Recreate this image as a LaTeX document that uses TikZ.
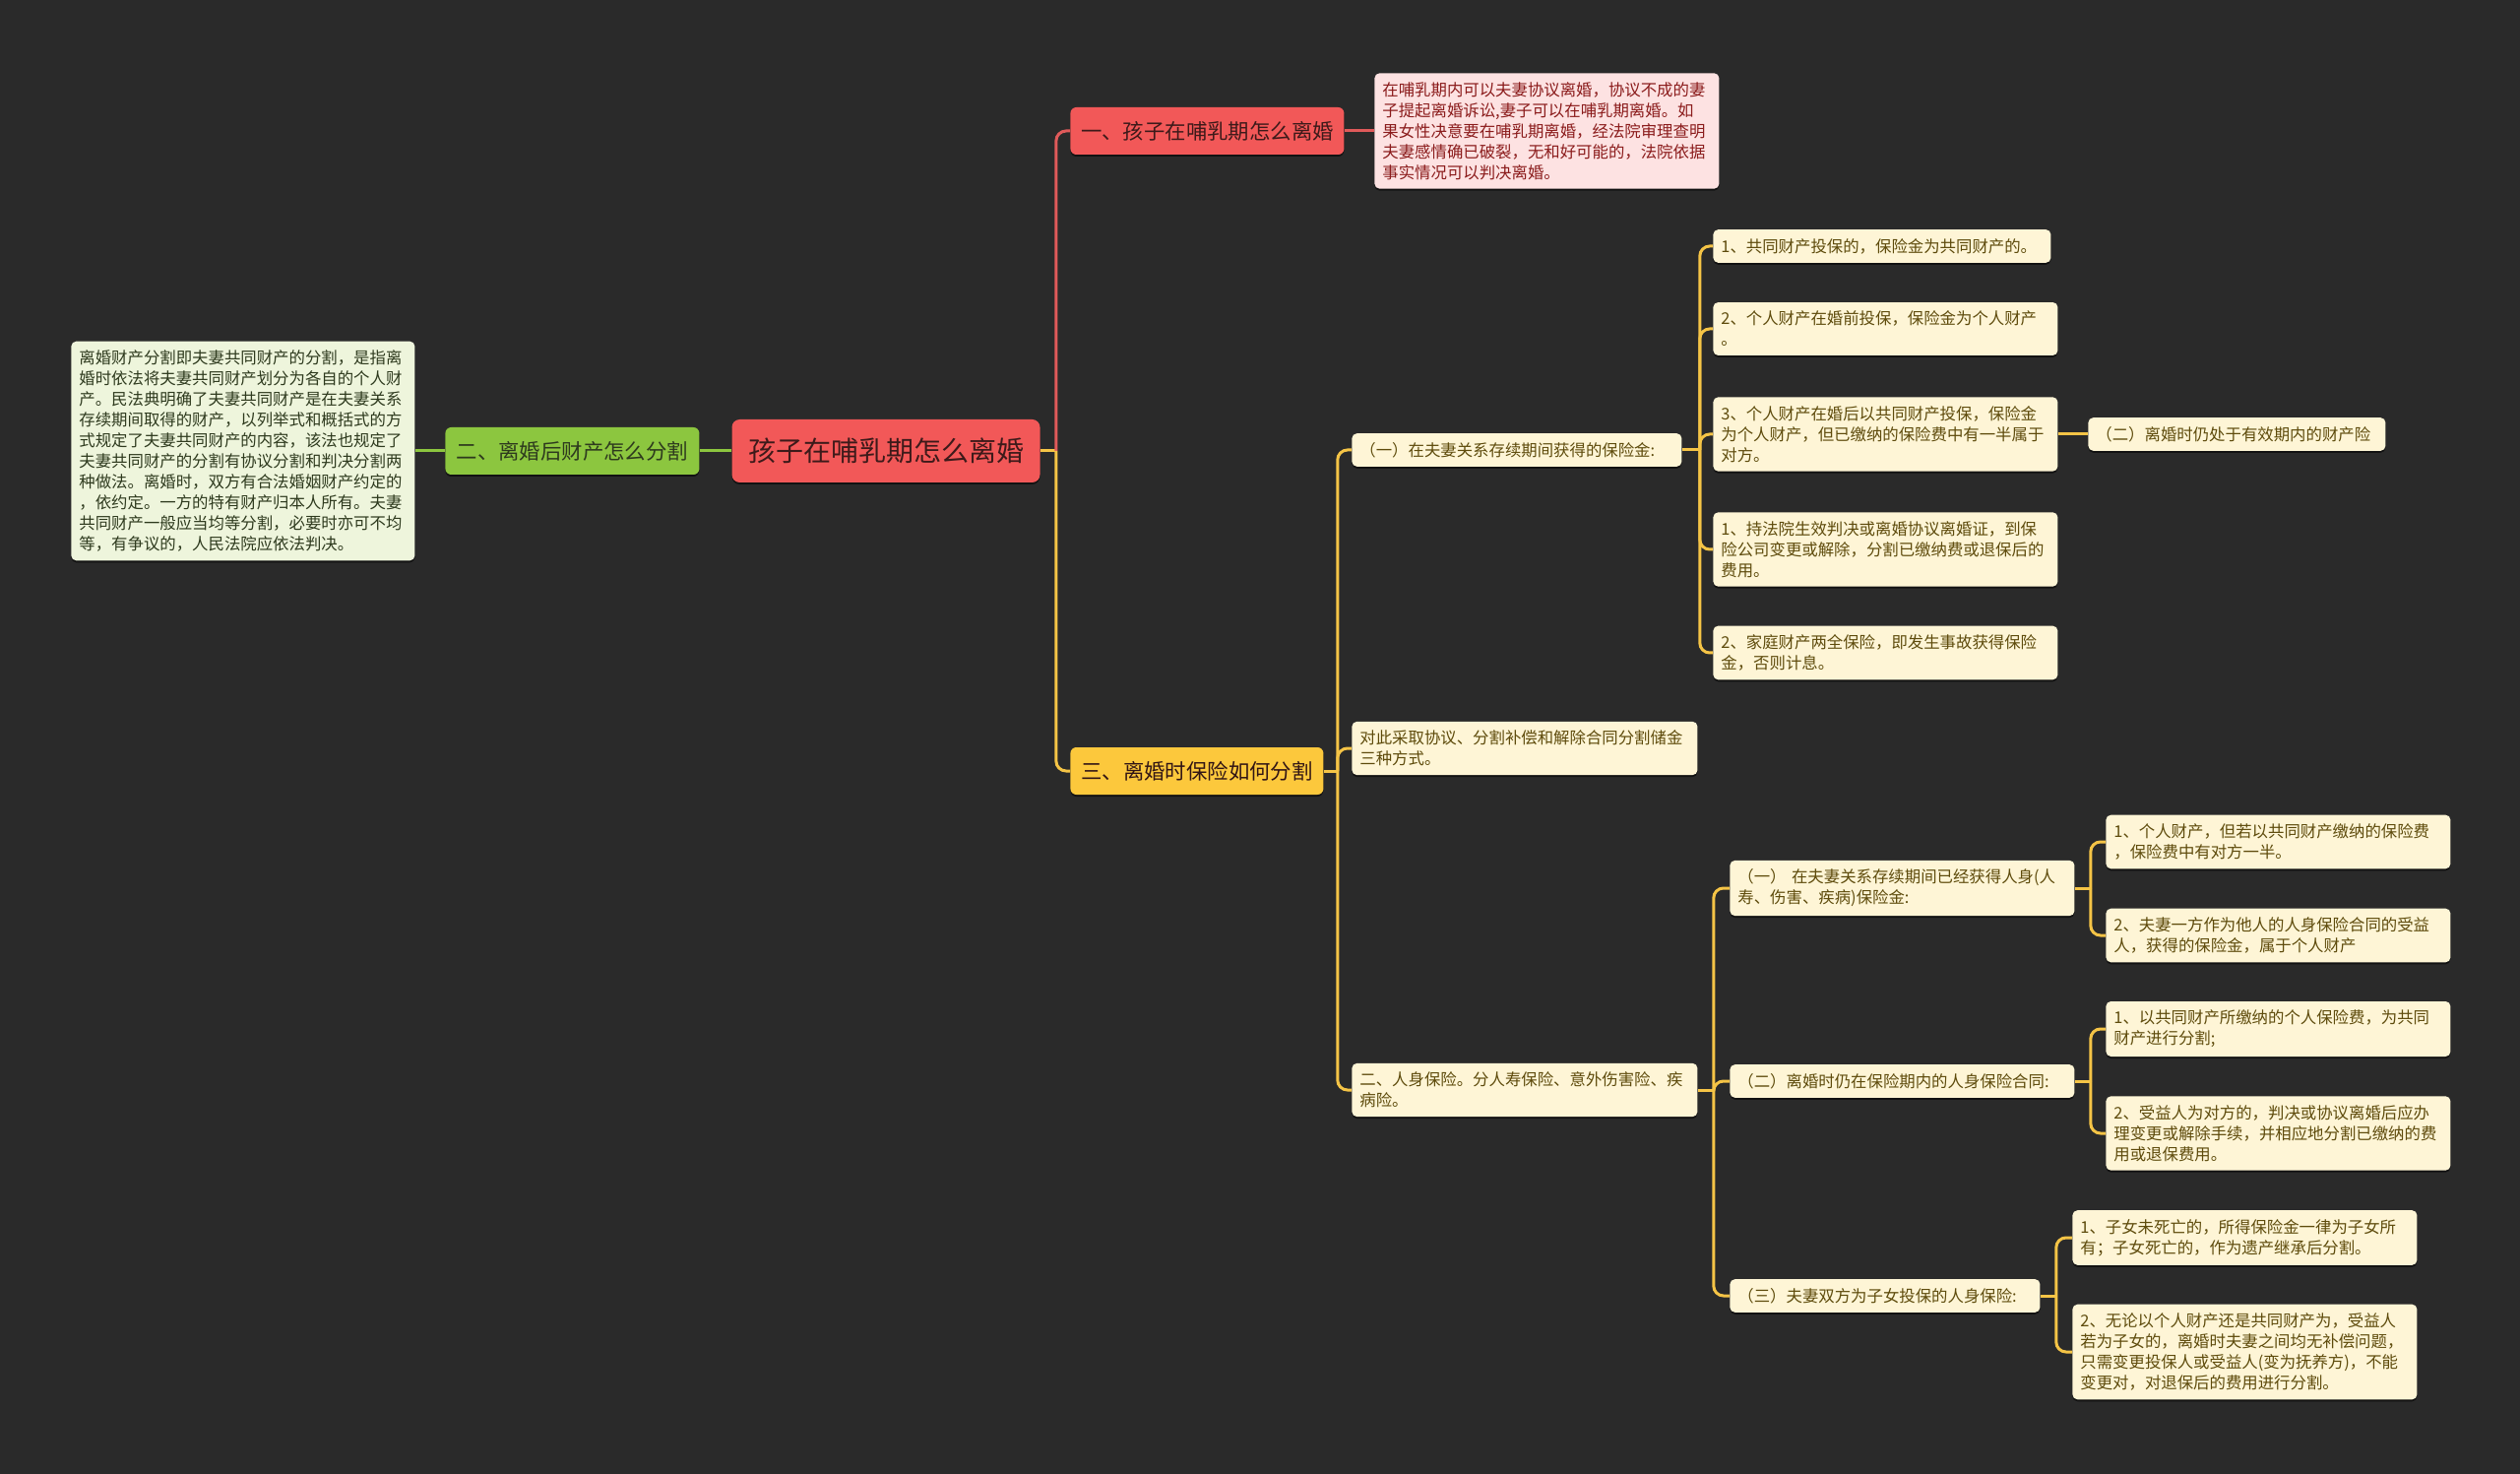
\documentclass[tikz,border=0pt]{standalone}
\usepackage{fontspec}
\setmainfont{Noto Sans CJK SC}
\usetikzlibrary{shadows,calc}
\definecolor{bg}{HTML}{2A2A2A}
\definecolor{leafbg}{HTML}{FEF5D6}
\definecolor{leaftext}{HTML}{5E4B0C}
\definecolor{pinkbg}{HTML}{FDE2E2}
\definecolor{pinktext}{HTML}{8B1C1C}
\definecolor{greenbg}{HTML}{EEF5DC}
\definecolor{greentext}{HTML}{2E3A1E}
\definecolor{rootred}{HTML}{F25858}
\definecolor{roottext}{HTML}{3D1A1A}
\definecolor{branchgreen}{HTML}{8CC63F}
\definecolor{branchyellow}{HTML}{FCC83C}
\definecolor{lineyellow}{HTML}{F5C446}
\definecolor{linered}{HTML}{E05A5A}
\definecolor{linegreen}{HTML}{8CC63F}
\begin{document}
\begin{tikzpicture}[x=0.5pt,y=-0.5pt,
  shade/.style={drop shadow={shadow xshift=0pt,shadow yshift=-1pt,opacity=0.55,fill=black}},
  leaf/.style={fill=leafbg,text=leaftext,rounded corners=2.5pt,inner xsep=4pt,inner ysep=4.5pt,
    align=left,font=\fontsize{8.2pt}{10.5pt}\selectfont,anchor=west,shade,text width=#1},
  leaf/.default=167pt,
  pinkbox/.style={leaf=167pt,fill=pinkbg,text=pinktext},
  greenbox/.style={leaf=166.5pt,fill=greenbg,text=greentext},
  branch/.style={rounded corners=3pt,inner sep=0pt,minimum height=24pt,anchor=west,
    font=\fontsize{10.7pt}{12pt}\selectfont,shade},
  yl/.style={draw=lineyellow,line width=1.5pt,rounded corners=5pt},
  rl/.style={draw=linered,line width=1.5pt,rounded corners=5pt},
  gl/.style={draw=linegreen,line width=1.5pt},
]
\fill[bg] (0,0) rectangle (2560,1497);
\useasboundingbox (0,0) rectangle (2560,1497);

% root
\node[fill=rootred,text=roottext,rounded corners=4pt,minimum width=156.5pt,minimum height=32pt,
  inner sep=0pt,font=\fontsize{14pt}{16pt}\selectfont,shade] (root) at (900,458) {孩子在哺乳期怎么离婚};

% left branch
\node[branch,fill=branchgreen,text=greentext,minimum width=129pt] (two) at (452,458) {二、离婚后财产怎么分割};
\node[greenbox] (twotext) at (72,458) {离婚财产分割即夫妻共同财产的分割，是指离\\婚时依法将夫妻共同财产划分为各自的个人财\\产。民法典明确了夫妻共同财产是在夫妻关系\\存续期间取得的财产，以列举式和概括式的方\\式规定了夫妻共同财产的内容，该法也规定了\\夫妻共同财产的分割有协议分割和判决分割两\\种做法。离婚时，双方有合法婚姻财产约定的\\，依约定。一方的特有财产归本人所有。夫妻\\共同财产一般应当均等分割，必要时亦可不均\\等，有争议的，人民法院应依法判决。};
\draw[gl] (twotext.east) -- (two.west);
\draw[gl] (two.east) -- (root.west);

% right main branches
\node[branch,fill=rootred,text=roottext,minimum width=139pt] (one) at (1087,133) {一、孩子在哺乳期怎么离婚};
\node[pinkbox] (onetext) at (1396,133) {在哺乳期内可以夫妻协议离婚，协议不成的妻\\子提起离婚诉讼,妻子可以在哺乳期离婚。如\\果女性决意要在哺乳期离婚，经法院审理查明\\夫妻感情确已破裂，无和好可能的，法院依据\\事实情况可以判决离婚。};
\node[branch,fill=branchyellow,text=roottext!80!black,minimum width=128.5pt] (three) at (1087,783) {三、离婚时保险如何分割};

\coordinate (s0) at ($(root.east)+(16,0)$);
\draw[yl] (root.east) -- (s0);
\draw[rl] (s0) |- (one.west);
\draw[yl] (s0) |- (three.west);
\draw[rl] (one.east) -- (onetext.west);

% children of three
\node[leaf=159.5pt] (t1) at (1373,457) {（一）在夫妻关系存续期间获得的保险金:};
\node[leaf=167.5pt] (tB) at (1373,760) {对此采取协议、分割补偿和解除合同分割储金\\三种方式。};
\node[leaf=167.5pt] (tC) at (1373,1107) {二、人身保险。分人寿保险、意外伤害险、疾\\病险。};
\coordinate (s3) at ($(three.east)+(14,0)$);
\draw[yl] (three.east) -- (s3);
\foreach \c in {t1,tB,tC} \draw[yl] (s3) |- (\c.west);

% children of t1
\node[leaf=163.5pt] (a1) at (1740,250) {1、共同财产投保的，保险金为共同财产的。};
\node[leaf] (a2) at (1740,334) {2、个人财产在婚前投保，保险金为个人财产\\。};
\node[leaf] (a3) at (1740,441) {3、个人财产在婚后以共同财产投保，保险金\\为个人财产，但已缴纳的保险费中有一半属于\\对方。};
\node[leaf] (a4) at (1740,558) {1、持法院生效判决或离婚协议离婚证，到保\\险公司变更或解除，分割已缴纳费或退保后的\\费用。};
\node[leaf] (a5) at (1740,663) {2、家庭财产两全保险，即发生事故获得保险\\金，否则计息。};
\node[leaf=143pt] (a6) at (2121,441) {（二）离婚时仍处于有效期内的财产险};
\coordinate (s1) at ($(t1.east)+(18,0)$);
\draw[yl] (t1.east) -- (s1);
\foreach \c in {a1,a2,a3,a4,a5} \draw[yl] (s1) |- (\c.west);
\draw[yl] (a3.east) -- (a6.west);

% children of tC
\node[leaf] (c1) at (1757,902) {（一） 在夫妻关系存续期间已经获得人身(人\\寿、伤害、疾病)保险金:};
\node[leaf] (c2) at (1757,1098) {（二）离婚时仍在保险期内的人身保险合同:};
\node[leaf=149.5pt] (c3) at (1757,1316) {（三）夫妻双方为子女投保的人身保险:};
\coordinate (sC) at ($(tC.east)+(16,0)$);
\draw[yl] (tC.east) -- (sC);
\foreach \c in {c1,c2,c3} \draw[yl] (sC) |- (\c.west);

\node[leaf] (c11) at (2139,855) {1、个人财产，但若以共同财产缴纳的保险费\\，保险费中有对方一半。};
\node[leaf] (c12) at (2139,950) {2、夫妻一方作为他人的人身保险合同的受益\\人，获得的保险金，属于个人财产};
\coordinate (sc1) at ($(c1.east)+(16,0)$);
\draw[yl] (c1.east) -- (sc1);
\foreach \c in {c11,c12} \draw[yl] (sc1) |- (\c.west);

\node[leaf] (c21) at (2139,1045) {1、以共同财产所缴纳的个人保险费，为共同\\财产进行分割;};
\node[leaf] (c22) at (2139,1151) {2、受益人为对方的，判决或协议离婚后应办\\理变更或解除手续，并相应地分割已缴纳的费\\用或退保费用。};
\coordinate (sc2) at ($(c2.east)+(16,0)$);
\draw[yl] (c2.east) -- (sc2);
\foreach \c in {c21,c22} \draw[yl] (sc2) |- (\c.west);

\node[leaf] (c31) at (2105,1257) {1、子女未死亡的，所得保险金一律为子女所\\有；子女死亡的，作为遗产继承后分割。};
\node[leaf] (c32) at (2105,1373) {2、无论以个人财产还是共同财产为，受益人\\若为子女的，离婚时夫妻之间均无补偿问题，\\只需变更投保人或受益人(变为抚养方)，不能\\变更对，对退保后的费用进行分割。};
\coordinate (sc3) at ($(c3.east)+(16,0)$);
\draw[yl] (c3.east) -- (sc3);
\foreach \c in {c31,c32} \draw[yl] (sc3) |- (\c.west);
\end{tikzpicture}
\end{document}
